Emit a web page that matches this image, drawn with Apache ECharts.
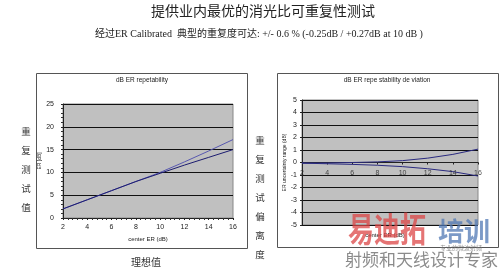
<!DOCTYPE html>
<html><head><meta charset="utf-8">
<script src="https://cdn.jsdelivr.net/npm/echarts@6/dist/echarts.min.js"></script>
<style>html,body{margin:0;padding:0;background:#fff}#c{width:500px;height:269px}</style>
</head><body><div id="c"></div>
<script>
// ---- data ----
const xTicks = [2, 4, 6, 8, 10, 12, 14, 16];
const repA = [2, 4, 6, 8, 10, 12.3, 14.7, 17.2];
const repB = [2, 4, 6, 8, 9.8, 11.6, 13.3, 15];
const devUp = [-0.05, -0.04, 0, 0.05, 0.15, 0.35, 0.65, 1.07];
const devDown = [-0.05, -0.1, -0.15, -0.22, -0.33, -0.5, -0.73, -1.08];
const pageTitle = '提供业内最优的消光比可重复性测试';
const pageSub = '经过ER Calibrated  典型的重复度可达: +/- 0.6 % (-0.25dB / +0.27dB at 10 dB )';
const leftTitle = 'dB ER repetability';
const rightTitle = 'dB ER repe stability de viation';
const leftYName = 'ER [dB]';
const rightYName = 'ER uncertainty range (dB)';
const xName = 'center ER (dB)';
const leftVert = '重复测试值';
const rightVert = '重复测试偏离度';
const bottomLabel = '理想值';

const pairs = (ys) => xTicks.map((x, i) => [x, ys[i]]);
const ax = {fontFamily: 'Liberation Sans', fontSize: 7, color: '#222', showMinLabel: true, showMaxLabel: true};
const chart = echarts.init(document.getElementById('c'));
const vert = (s) => s.split('').join('\n');
chart.setOption({
  animation: false,
  grid: [
    {left: 63, top: 104, width: 170, height: 114, show: true, backgroundColor: '#c0c0c0', borderColor: '#888', borderWidth: 1},
    {left: 302, top: 100, width: 176, height: 125, show: true, backgroundColor: '#c0c0c0', borderColor: '#888', borderWidth: 1}
  ],
  xAxis: [
    {gridIndex: 0, type: 'value', min: 2, max: 16, interval: 2,
     axisLine: {lineStyle: {color: '#222'}}, axisTick: {show: true, length: 2, lineStyle: {color: '#222'}},
     minorTick: {show: true, splitNumber: 5, length: 2, lineStyle: {color: '#333'}},
     axisLabel: Object.assign({margin: 6}, ax), splitLine: {show: false},
     name: xName, nameLocation: 'middle', nameGap: 18, nameTextStyle: {fontFamily: 'Liberation Sans', fontSize: 6, color: '#222'}},
    {gridIndex: 1, type: 'value', min: 2, max: 16, interval: 2, position: 'bottom', offset: -62.5,
     axisLine: {onZero: false, lineStyle: {color: '#222'}}, axisTick: {show: true, length: 2, lineStyle: {color: '#222'}},
     axisLabel: {show: false}, splitLine: {show: false}}
  ],
  yAxis: [
    {gridIndex: 0, type: 'value', min: 0, max: 25, interval: 5,
     axisLine: {show: true, lineStyle: {color: '#222'}}, axisTick: {show: true, length: 2},
     minorTick: {show: true, splitNumber: 5, length: 2, lineStyle: {color: '#333'}},
     axisLabel: Object.assign({margin: 9}, ax),
     splitLine: {show: true, lineStyle: {color: '#111', width: 1}},
     name: leftYName, nameLocation: 'middle', nameGap: 19, nameTextStyle: {fontFamily: 'Liberation Sans', fontSize: 5, color: '#222'}},
    {gridIndex: 1, type: 'value', min: -5, max: 5, interval: 1,
     axisLine: {show: true, lineStyle: {color: '#222'}}, axisTick: {show: true, length: 2},
     axisLabel: Object.assign({margin: 5}, ax),
     splitLine: {show: true, lineStyle: {color: '#111', width: 1}},
     name: rightYName, nameLocation: 'middle', nameGap: 14, nameTextStyle: {fontFamily: 'Liberation Sans', fontSize: 5, color: '#222'}}
  ],
  series: [
    {type: 'line', xAxisIndex: 0, yAxisIndex: 0, data: pairs(repA), symbol: 'none', lineStyle: {color: '#5858b0', width: 1}},
    {type: 'line', xAxisIndex: 0, yAxisIndex: 0, data: pairs(repB), symbol: 'none', lineStyle: {color: '#1c1c70', width: 1}},
    {type: 'line', xAxisIndex: 1, yAxisIndex: 1, data: pairs(devUp), symbol: 'none', lineStyle: {color: '#2a2a80', width: 1}},
    {type: 'line', xAxisIndex: 1, yAxisIndex: 1, data: pairs(devDown), symbol: 'none', lineStyle: {color: '#2a2a80', width: 1}},
    {type: 'scatter', xAxisIndex: 1, yAxisIndex: 1, data: xTicks.map(x => [x, 0]), symbolSize: 2, clip: false,
     itemStyle: {color: 'rgba(0,0,0,0)'}, silent: true, z: 10,
     labelLayout: {hideOverlap: false},
     label: {show: true, position: 'bottom', distance: 6, formatter: (p) => String(p.value[0]),
             fontFamily: 'Liberation Sans', fontSize: 7, color: '#222'}}
  ],
  graphic: [
    {type: 'rect', shape: {x: 36.5, y: 73.5, width: 211, height: 175}, style: {fill: 'none', stroke: '#555', lineWidth: 1}, z: -1},
    {type: 'rect', shape: {x: 277.5, y: 73.5, width: 221, height: 174}, style: {fill: 'none', stroke: '#555', lineWidth: 1}, z: -1},
    {type: 'text', x: 263, y: 11, style: {text: pageTitle, font: '14px "Noto Sans CJK SC"', fill: '#222', align: 'center', verticalAlign: 'middle', letterSpacing: 0.6}},
    {type: 'text', x: 95, y: 34, style: {text: pageSub, font: '10px "Liberation Serif", "Noto Sans CJK SC"', fill: '#222', verticalAlign: 'middle', letterSpacing: 0.25}},
    {type: 'text', x: 142, y: 80, style: {text: leftTitle, font: '6.5px "Liberation Sans"', fill: '#222', align: 'center', verticalAlign: 'middle'}},
    {type: 'text', x: 387, y: 80, style: {text: rightTitle, font: '6.5px "Liberation Sans"', fill: '#222', align: 'center', verticalAlign: 'middle'}},
    {type: 'text', x: 385, y: 235, style: {text: xName, font: '6px "Liberation Sans"', fill: '#222', align: 'center', verticalAlign: 'middle'}},
    {type: 'text', x: 26, y: 122, style: {text: vert(leftVert), font: '9.5px "Noto Sans CJK SC"', lineHeight: 19, fill: '#333', align: 'center', verticalAlign: 'top'}},
    {type: 'text', x: 260, y: 131, style: {text: vert(rightVert), font: '9.5px "Noto Sans CJK SC"', lineHeight: 19, fill: '#333', align: 'center', verticalAlign: 'top'}},
    {type: 'text', x: 146, y: 262, style: {text: bottomLabel, font: '10px "Noto Sans CJK SC"', fill: '#333', align: 'center', verticalAlign: 'middle', letterSpacing: 3}},
    {type: 'text', x: 348, y: 212, scaleY: 1.3, z: 20, style: {text: '易迪拓', font: 'bold 26px "Noto Sans CJK SC"', fill: 'rgba(220,70,70,0.75)'}},
    {type: 'text', x: 438, y: 218, z: 20, style: {text: '培训', font: 'bold 26px "Noto Sans CJK SC"', fill: 'rgba(80,120,180,0.75)'}},
    {type: 'text', x: 345, y: 251, z: 19, style: {text: '射频和天线设计专家', font: '17px "Noto Sans CJK SC"', fill: 'rgba(110,110,110,0.8)'}},
    {type: 'text', x: 440, y: 245, z: 19, style: {text: '专业的微波射频', font: '6px "Noto Sans CJK SC"', fill: 'rgba(120,120,120,0.8)'}}
  ]
});
</script></body></html>
